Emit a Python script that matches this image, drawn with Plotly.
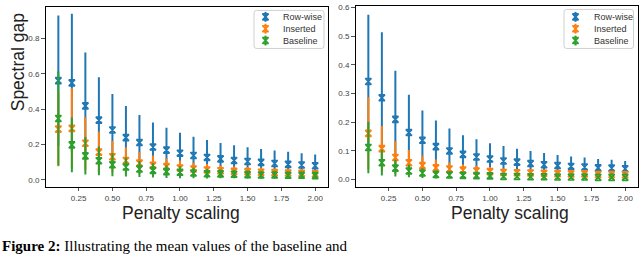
import plotly.graph_objects as go

# ---------------- data ----------------
penalty = [0.1, 0.2, 0.3, 0.4, 0.5, 0.6, 0.7, 0.8, 0.9, 1.0,
           1.1, 1.2, 1.3, 1.4, 1.5, 1.6, 1.7, 1.8, 1.9, 2.0]

# left panel
left_rowwise_mean = [0.561, 0.548, 0.418, 0.338, 0.282, 0.239, 0.211, 0.186, 0.168, 0.151,
                     0.138, 0.127, 0.119, 0.110, 0.104, 0.099, 0.093, 0.088, 0.084, 0.080]
left_rowwise_err = [0.368, 0.390, 0.302, 0.242, 0.203, 0.179, 0.155, 0.138, 0.127, 0.116,
                    0.106, 0.099, 0.090, 0.086, 0.081, 0.076, 0.073, 0.071, 0.067, 0.064]
left_inserted_mean = [0.287, 0.291, 0.207, 0.157, 0.131, 0.110, 0.095, 0.082, 0.075, 0.067,
                      0.062, 0.056, 0.052, 0.048, 0.047, 0.043, 0.041, 0.039, 0.037, 0.035]
left_inserted_err = [0.210, 0.227, 0.149, 0.115, 0.089, 0.075, 0.062, 0.056, 0.048, 0.043,
                     0.037, 0.034, 0.030, 0.028, 0.026, 0.026, 0.024, 0.024, 0.025, 0.023]
left_baseline_mean = [0.347, 0.198, 0.136, 0.108, 0.086, 0.073, 0.062, 0.054, 0.047, 0.043,
                      0.039, 0.035, 0.034, 0.032, 0.030, 0.028, 0.028, 0.026, 0.026, 0.024]
left_baseline_err = [0.265, 0.155, 0.106, 0.081, 0.065, 0.054, 0.045, 0.040, 0.036, 0.033,
                     0.030, 0.027, 0.025, 0.023, 0.022, 0.021, 0.020, 0.019, 0.018, 0.017]

# right panel
right_rowwise_mean = [0.342, 0.285, 0.210, 0.164, 0.137, 0.115, 0.100, 0.088, 0.079, 0.072,
                      0.065, 0.061, 0.056, 0.052, 0.049, 0.046, 0.044, 0.041, 0.040, 0.038]
right_rowwise_err = [0.232, 0.228, 0.169, 0.132, 0.104, 0.091, 0.078, 0.067, 0.062, 0.055,
                     0.052, 0.047, 0.044, 0.041, 0.037, 0.035, 0.033, 0.031, 0.029, 0.027]
right_inserted_mean = [0.161, 0.108, 0.077, 0.059, 0.049, 0.041, 0.037, 0.033, 0.030, 0.028,
                       0.025, 0.024, 0.023, 0.022, 0.021, 0.020, 0.020, 0.018, 0.018, 0.017]
right_inserted_err = [0.126, 0.079, 0.057, 0.044, 0.035, 0.029, 0.024, 0.020, 0.018, 0.016,
                      0.014, 0.013, 0.012, 0.011, 0.010, 0.010, 0.009, 0.009, 0.008, 0.008]
right_baseline_mean = [0.112, 0.059, 0.040, 0.030, 0.023, 0.018, 0.016, 0.015, 0.014, 0.013,
                       0.011, 0.011, 0.010, 0.010, 0.009, 0.009, 0.009, 0.008, 0.008, 0.008]
right_baseline_err = [0.090, 0.045, 0.029, 0.022, 0.017, 0.014, 0.012, 0.011, 0.010, 0.009,
                      0.008, 0.007, 0.007, 0.007, 0.006, 0.006, 0.006, 0.005, 0.005, 0.005]

series_names = ["Row-wise", "Inserted", "Baseline"]
x_tick_vals = [0.25, 0.50, 0.75, 1.00, 1.25, 1.50, 1.75, 2.00]
x_tick_text = ["0.25", "0.50", "0.75", "1.00", "1.25", "1.50", "1.75", "2.00"]
left_y_ticks = [0.0, 0.2, 0.4, 0.6, 0.8]
left_y_text = ["0.0", "0.2", "0.4", "0.6", "0.8"]
right_y_ticks = [0.0, 0.1, 0.2, 0.3, 0.4, 0.5, 0.6]
right_y_text = ["0.0", "0.1", "0.2", "0.3", "0.4", "0.5", "0.6"]
x_title = "Penalty scaling"
y_title = "Spectral gap"
caption_bold = "Figure 2:"
caption_rest = "Illustrating the mean values of the baseline and"

# ---------------- style ----------------
W, H = 640, 256
colors = ["#1f77b4", "#ff7f0e", "#2ca02c"]
SANS = "Liberation Sans, Arial, Helvetica, sans-serif"
SERIF = "Liberation Serif, Times New Roman, serif"


def px(x):
    return x / W


def py(y):
    return 1 - y / H


fig = go.Figure()

panels = [
    ("x", "y", [(left_rowwise_mean, left_rowwise_err),
                (left_inserted_mean, left_inserted_err),
                (left_baseline_mean, left_baseline_err)]),
    ("x2", "y2", [(right_rowwise_mean, right_rowwise_err),
                  (right_inserted_mean, right_inserted_err),
                  (right_baseline_mean, right_baseline_err)]),
]

marker_style = dict(symbol="hourglass-open", size=6)

for xa, ya, series in panels:
    for (mean, err), name, c in zip(series, series_names, colors):
        fig.add_trace(go.Scatter(
            x=penalty, y=mean, mode="markers", name=name, showlegend=False,
            xaxis=xa, yaxis=ya,
            marker=dict(color=c, line=dict(width=1.6, color=c), **marker_style),
            error_y=dict(type="data", array=err, visible=True, color=c,
                         thickness=2, width=0),
        ))

# custom legends drawn on a pixel overlay axis
legend_boxes = [(254, 7.5, 324, 46), (564, 6.5, 633.5, 46)]
legend_marker_x = [265.5, 575.5]
legend_text_x = [281, 591.5]
legend_rows = [14, 26, 38]

shapes = []
annotations = []
for (x0, y0, x1, y1), mx, tx in zip(legend_boxes, legend_marker_x, legend_text_x):
    r = 2.5
    path = (f"M{x0 + r},{y0} L{x1 - r},{y0} Q{x1},{y0} {x1},{y0 + r} "
            f"L{x1},{y1 - r} Q{x1},{y1} {x1 - r},{y1} L{x0 + r},{y1} "
            f"Q{x0},{y1} {x0},{y1 - r} L{x0},{y0 + r} Q{x0},{y0} {x0 + r},{y0} Z")
    shapes.append(dict(type="path", path=path, xref="x3", yref="y3",
                       line=dict(color="#d0d0d0", width=1),
                       fillcolor="rgba(255,255,255,0.85)", layer="below"))
    for name, c, ry in zip(series_names, colors, legend_rows):
        fig.add_trace(go.Scatter(
            x=[mx], y=[ry], mode="markers", showlegend=False, xaxis="x3", yaxis="y3",
            marker=dict(color=c, line=dict(width=1.6, color=c), **marker_style),
            error_y=dict(type="data", array=[5], visible=True, color=c, thickness=2, width=0),
            hoverinfo="skip",
        ))
        annotations.append(dict(x=tx, y=ry, xref="x3", yref="y3", text=name,
                                showarrow=False, xanchor="left", yanchor="middle",
                                font=dict(family=SANS, size=9, color="#333333")))

# axis titles
for cx in (181, 510):
    annotations.append(dict(x=px(cx), y=py(212), xref="paper", yref="paper", text=x_title,
                            showarrow=False, xanchor="center", yanchor="middle",
                            font=dict(family=SANS, size=17.5, color="#222222")))
annotations.append(dict(x=px(18), y=py(60), xref="paper", yref="paper", text=y_title,
                        showarrow=False, xanchor="center", yanchor="middle", textangle=-90,
                        font=dict(family=SANS, size=17.5, color="#222222")))
# caption, kept fully inside the picture
annotations.append(dict(x=0, y=0, xref="paper", yref="paper",
                        text=f"<b>{caption_bold}</b> {caption_rest}",
                        showarrow=False, xanchor="left", yanchor="bottom",
                        font=dict(family=SERIF, size=15, color="#000000")))

axis_common = dict(showline=True, mirror=True, linecolor="#000000", linewidth=1,
                   ticks="outside", ticklen=3.5, tickwidth=0.8, tickcolor="#555555",
                   showgrid=False, zeroline=False,
                   tickfont=dict(family=SANS, size=8, color="#444444"))

fig.update_layout(
    width=W, height=H, margin=dict(l=0, r=0, t=0, b=0),
    paper_bgcolor="white", plot_bgcolor="rgba(0,0,0,0)", showlegend=False,
    xaxis=dict(domain=[px(45.5), px(328)], range=[0.005, 2.095], anchor="y",
               tickvals=x_tick_vals, ticktext=x_tick_text, **axis_common),
    yaxis=dict(domain=[py(186), py(4)], range=[-0.039, 0.977], anchor="x",
               tickvals=left_y_ticks, ticktext=left_y_text, **axis_common),
    xaxis2=dict(domain=[px(355.5), px(638)], range=[0.005, 2.095], anchor="y2",
                tickvals=x_tick_vals, ticktext=x_tick_text, **axis_common),
    yaxis2=dict(domain=[py(186), py(3)], range=[-0.025, 0.605], anchor="x2",
                tickvals=right_y_ticks, ticktext=right_y_text, **axis_common),
    xaxis3=dict(domain=[0, 1], range=[0, W], anchor="y3", visible=False, fixedrange=True),
    yaxis3=dict(domain=[0, 1], range=[H, 0], anchor="x3", visible=False, fixedrange=True),
    shapes=shapes, annotations=annotations,
)

fig.write_html("out.html", post_script="document.body.style.margin='0';",
               config={"displayModeBar": False})
